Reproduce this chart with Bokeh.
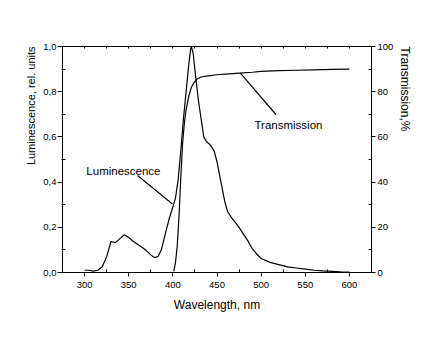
from bokeh.plotting import figure
from bokeh.models import Range1d, LinearAxis, FixedTicker, CustomJSTickFormatter, Label, Title
from bokeh.embed import file_html
from bokeh.resources import INLINE

# ---- data ----
lum_nm = [300, 305, 310, 315, 320, 325, 330, 335, 340, 345, 350, 355, 360, 365, 370, 375,
          379, 383, 387, 392, 396, 400, 403, 406, 409, 412, 415, 418, 420, 421, 423, 426,
          429, 432, 435, 438, 441, 444, 447, 450, 453, 456, 459, 462, 466, 470, 475, 480,
          485, 490, 495, 500, 510, 520, 530, 540, 550, 560, 570, 580, 590, 600]
lum_val = [0.010, 0.010, 0.006, 0.010, 0.025, 0.070, 0.137, 0.132, 0.150, 0.167, 0.155, 0.138,
           0.125, 0.112, 0.097, 0.078, 0.066, 0.070, 0.100, 0.180, 0.240, 0.290, 0.330, 0.410,
           0.540, 0.680, 0.800, 0.920, 0.985, 1.000, 0.970, 0.860, 0.760, 0.680, 0.600, 0.580,
           0.570, 0.555, 0.535, 0.490, 0.430, 0.370, 0.310, 0.270, 0.245, 0.225, 0.200, 0.170,
           0.140, 0.105, 0.082, 0.062, 0.045, 0.035, 0.025, 0.020, 0.015, 0.010, 0.007, 0.005,
           0.003, 0.002]

tr_nm = [401, 402, 403, 405, 407, 409, 411, 413, 415, 418, 421, 424, 427, 432, 440, 450,
         460, 475, 490, 500, 520, 540, 560, 580, 600]
tr_val = [0.5, 2.5, 4.5, 12, 25, 42, 57, 66, 72, 78, 82, 84, 85.5, 86.5, 87, 87.5,
          87.8, 88.2, 88.6, 89, 89.3, 89.5, 89.7, 89.9, 90]

x_ticks = [300, 350, 400, 450, 500, 550, 600]
x_minor = [275, 325, 375, 425, 475, 525, 575, 625]
top_ticks = [300, 325, 350, 375, 400, 425, 450, 475, 500, 525, 550, 575, 600]
y_ticks = [0.0, 0.2, 0.4, 0.6, 0.8, 1.0]
y_minor = [0.1, 0.3, 0.5, 0.7, 0.9]
t_ticks = [0, 20, 40, 60, 80, 100]
t_minor = [10, 30, 50, 70, 90]

# annotations (text and pointer lines)
lum_label = "Luminescence"
lum_label_xy = (302, 0.447)
lum_ptr_x = [360, 399.5]
lum_ptr_y = [0.429, 0.303]
tr_label = "Transmission"
tr_label_xy = (492.5, 65.4)
tr_ptr_x = [476.5, 517]
tr_ptr_y = [88.2, 69.8]

x_title = "Wavelength, nm"
y_title = "Luminescence, rel. units"
t_title = "Transmission,%"

FONT = "Liberation Sans"

p = figure(output_backend="svg", toolbar_location=None,
           frame_width=309, frame_height=226,
           min_border_left=62, min_border_right=56,
           min_border_top=46, min_border_bottom=58,
           x_range=Range1d(275, 625), y_range=Range1d(0, 1.0),
           background_fill_color="white", border_fill_color="white")
p.extra_y_ranges = {"T": Range1d(0, 100)}
p.xgrid.visible = False
p.ygrid.visible = False
p.outline_line_color = "black"
p.outline_line_width = 1


def style(ax, size="9.5px"):
    ax.axis_line_color = "black"
    ax.major_tick_line_color = "black"
    ax.minor_tick_line_color = "black"
    ax.major_label_text_font = FONT
    ax.major_label_text_font_size = size
    ax.major_label_text_color = "black"
    ax.axis_label_text_font = FONT
    ax.axis_label_text_font_style = "normal"
    ax.axis_label_text_color = "black"


# bottom axis
xa = p.xaxis[0]
xa.ticker = FixedTicker(ticks=x_ticks, minor_ticks=x_minor)
xa.major_tick_out = 4
xa.major_tick_in = 0
xa.minor_tick_in = 3
xa.minor_tick_out = 0
xa.major_label_standoff = 5
style(xa)
xa.axis_label = x_title
xa.axis_label_text_font_size = "12px"
xa.axis_label_standoff = 7

# left axis
ya = p.yaxis[0]
ya.ticker = FixedTicker(ticks=y_ticks, minor_ticks=y_minor)
ya.formatter = CustomJSTickFormatter(code="return tick.toFixed(1).replace('.', ',');")
ya.major_tick_out = 5
ya.major_tick_in = 0
ya.minor_tick_in = 3
ya.minor_tick_out = 1
ya.major_label_standoff = 1
style(ya)

# right axis
ra = LinearAxis(y_range_name="T")
ra.ticker = FixedTicker(ticks=t_ticks, minor_ticks=t_minor)
ra.major_tick_out = 4
ra.major_tick_in = 0
ra.minor_tick_in = 3
ra.minor_tick_out = 0
ra.major_label_standoff = 2
style(ra)
p.add_layout(ra, "right")

# top frame ticks (no labels)
ta = LinearAxis()
ta.ticker = FixedTicker(ticks=top_ticks, minor_ticks=[])
ta.major_tick_in = 2
ta.major_tick_out = 0
ta.major_label_text_color = None
ta.axis_line_color = "black"
ta.major_tick_line_color = "black"
p.add_layout(ta, "above")

# rotated side titles (top-aligned as in the reference)
p.add_layout(Title(text=y_title, align="right", text_font=FONT, text_font_size="11px",
                   text_font_style="normal", text_color="black", standoff=7), "left")
p.add_layout(Title(text=t_title, align="left", text_font=FONT, text_font_size="12px",
                   text_font_style="normal", text_color="black", standoff=2), "right")

# curves
p.line(lum_nm, lum_val, line_color="black", line_width=1.2)
p.line(tr_nm, tr_val, line_color="black", line_width=1.2, y_range_name="T")

# pointers
p.line(lum_ptr_x, lum_ptr_y, line_color="black", line_width=1.2)
p.line(tr_ptr_x, tr_ptr_y, line_color="black", line_width=1.2, y_range_name="T")

p.add_layout(Label(x=lum_label_xy[0], y=lum_label_xy[1], text=lum_label,
                   text_font=FONT, text_font_size="11.5px", text_color="black",
                   text_align="left", text_baseline="middle"))
p.add_layout(Label(x=tr_label_xy[0], y=tr_label_xy[1], text=tr_label, y_range_name="T",
                   text_font=FONT, text_font_size="11.5px", text_color="black",
                   text_align="left", text_baseline="middle"))

open("out.html", "w").write(file_html(p, INLINE))
